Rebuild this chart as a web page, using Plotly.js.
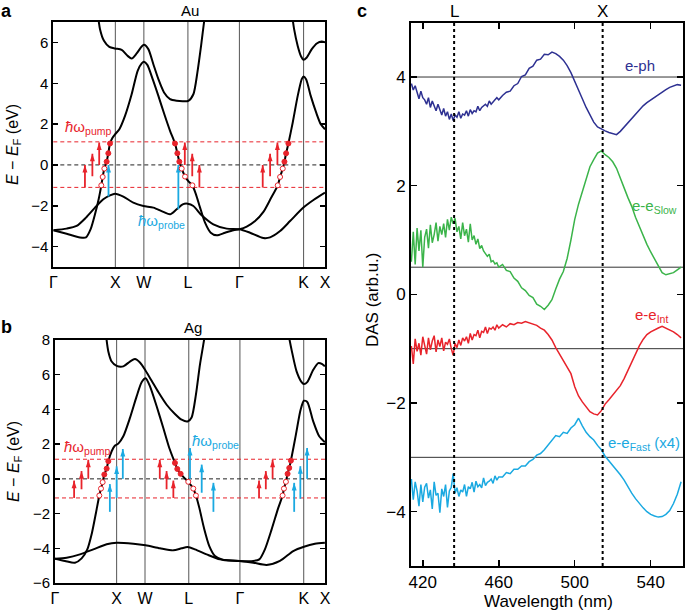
<!DOCTYPE html>
<html><head><meta charset="utf-8">
<script src="https://cdn.plot.ly/plotly-3.0.1.min.js"></script>
<style>html,body{margin:0;padding:0;background:#fff}#chart{width:685px;height:613px}</style>
</head><body><div id="chart"></div>
<script>
// ---------- Panel a/b : band structures ----------
const kTicks = [0, 1, 1.46, 2.17, 3.0, 4.035, 4.38];
const kLabels = ['Γ', 'X', 'W', 'L', 'Γ', 'K', 'X'];
const auYTicks = [-4, -2, 0, 2, 4, 6];
const auYLabels = ['−4', '−2', '0', '2', '4', '6'];
const agYTicks = [-6, -4, -2, 0, 2, 4, 6, 8];
const agYLabels = ['−6', '−4', '−2', '0', '2', '4', '6', '8'];
const levels = [1.13, 0, -1.1];

// Au bands
const auSpK = [0,0.215,0.43,0.527,0.602,0.672,0.731,0.774,0.796,0.823,0.86,0.887,0.914,0.957,0.995,1.065,1.156,1.263,1.36,1.425,1.462,1.516,1.602,1.694,1.79,1.882,1.962,2.0,2.032,2.07,2.124,2.183,2.242,2.30,2.366,2.446,2.538,2.634,2.769,2.903,3.0,3.118,3.253,3.387,3.505,3.618,3.656,3.699,3.726,3.753,3.79,3.86,3.94,4.005,4.032,4.075,4.15,4.237,4.312,4.38];
const auSpE = [-3.20,-3.37,-3.55,-3.55,-3.15,-2.42,-1.68,-1.0,-0.59,-0.18,0.16,0.57,1.05,1.34,1.50,1.75,2.40,3.46,4.61,4.97,5.05,4.90,4.20,3.38,2.48,1.67,1.05,0.57,0.16,-0.18,-0.57,-0.82,-1.0,-1.44,-2.09,-2.83,-3.32,-3.45,-3.32,-3.20,-3.15,-3.02,-2.75,-2.30,-1.65,-1.0,-0.59,-0.18,0.16,0.57,1.05,2.08,3.38,4.20,4.33,4.20,3.38,2.57,1.99,1.75];
const auDK = [0,0.215,0.376,0.527,0.672,0.806,0.914,0.995,1.129,1.29,1.452,1.613,1.774,1.882,1.989,2.086,2.167,2.258,2.392,2.58,2.796,3.0,3.172,3.387,3.495,3.656,3.817,4.032,4.194,4.38];
const auDE = [-3.20,-3.12,-2.99,-2.58,-2.09,-1.68,-1.49,-1.41,-1.55,-1.85,-2.01,-2.09,-2.30,-2.42,-2.17,-1.93,-1.90,-2.01,-2.47,-2.91,-3.12,-3.15,-3.32,-3.58,-3.55,-3.24,-2.75,-2.09,-1.72,-1.36];
const auUpK = [0.715,0.753,0.817,0.903,0.995,1.102,1.199,1.263,1.344,1.425,1.462,1.532,1.613,1.694,1.785,1.882,1.989,2.097,2.177,2.258,2.323,2.382,2.43,2.457];
const auUpE = [7.47,6.65,6.08,5.78,5.70,5.64,5.34,5.21,5.46,5.80,5.88,5.67,4.93,4.20,3.55,3.22,3.14,3.12,3.14,3.46,4.53,5.83,6.98,7.47];
const auKK = [3.844,3.882,3.94,3.995,4.032,4.086,4.167,4.247,4.328,4.38];
const auKE = [7.47,6.65,5.83,5.31,5.15,5.26,5.67,5.95,6.05,6.0];

// Au pump/probe arrows and carriers
const auPumpK = [0.51,0.63,0.74, 2.12,2.24,2.355, 3.376,3.495,3.613];
const auPumpFrom = [-1.1,-0.55,0, 0,-0.55,-1.1, -1.1,-0.55,0];
const auPumpTo = [0,0.55,1.1, 1.1,0.55,0, 0,0.55,1.1];
const auProbeK = [0.89, 2.016];
const auProbeFrom = [-1.55, -2.17];
const auProbeTo = [0, 0];
const auElecK = [0.86,0.887,0.914, 1.962,2.0,2.032, 3.726,3.753,3.79];
const auElecE = [0.16,0.57,1.05, 1.05,0.57,0.16, 0.16,0.57,1.05];
const auHoleK = [0.774,0.796,0.823, 2.07,2.124,2.242, 3.618,3.656,3.699];
const auHoleE = [-1.0,-0.59,-0.18, -0.18,-0.57,-1.0, -1.0,-0.59,-0.18];

// Ag bands
const agSpK = [0,0.162,0.324,0.432,0.524,0.6,0.665,0.719,0.746,0.773,0.80,0.838,0.865,0.919,0.973,1.027,1.108,1.216,1.324,1.405,1.47,1.541,1.649,1.757,1.854,1.946,1.984,2.038,2.097,2.162,2.243,2.286,2.341,2.416,2.503,2.595,2.73,2.989,3.216,3.314,3.405,3.514,3.622,3.692,3.714,3.746,3.773,3.80,3.827,3.908,3.984,4.038,4.092,4.189,4.286,4.378];
const agSpE = [-4.60,-4.73,-4.83,-4.58,-4.06,-3.10,-1.95,-0.96,-0.56,-0.19,0.25,0.59,1.02,1.59,1.92,2.03,2.45,3.51,4.75,5.57,5.80,5.33,4.18,2.93,1.78,0.92,0.57,0.29,0.06,-0.17,-0.56,-0.96,-1.67,-2.82,-3.87,-4.44,-4.67,-4.73,-4.73,-4.64,-4.06,-2.91,-1.67,-0.96,-0.56,-0.17,0.29,0.63,1.05,2.55,3.98,4.50,4.43,3.31,2.45,2.11];
const agDK = [0,0.189,0.405,0.622,0.838,1.0,1.27,1.47,1.703,1.919,2.054,2.151,2.27,2.459,2.676,2.989,3.216,3.432,3.649,3.865,4.038,4.216,4.378];
const agDE = [-4.60,-4.54,-4.35,-4.06,-3.77,-3.68,-3.74,-3.83,-4.0,-4.12,-4.0,-3.93,-4.06,-4.35,-4.64,-4.73,-4.83,-4.96,-4.73,-4.16,-3.91,-3.74,-3.68];
const agUpK = [0.827,0.865,0.919,1.0,1.108,1.216,1.297,1.378,1.47,1.568,1.676,1.811,1.946,2.054,2.151,2.216,2.286,2.351,2.405,2.432];
const agUpE = [8.30,7.34,6.76,6.51,6.48,6.76,6.90,6.70,6.23,5.65,5.0,4.27,3.74,3.41,3.31,3.54,4.85,6.57,7.72,8.30];
const agKK = [3.789,3.838,3.919,4.0,4.038,4.092,4.189,4.27,4.335,4.378];
const agKE = [8.30,7.43,6.19,5.57,5.46,5.57,6.28,6.67,6.61,6.48];

const agPumpK = [0.31,0.43,0.54, 1.70,1.81,1.92, 3.31,3.42,3.53];
const agPumpFrom = [-1.1,-0.6,0, 0,-0.6,-1.1, -1.1,-0.6,0];
const agPumpTo = [-0.1,0.45,1.1, 1.1,0.45,-0.1, -0.1,0.45,1.1];
const agProbeK = [0.89,1.0,1.10, 2.19,2.38,2.57, 3.88,3.98,4.09];
const agProbeFrom = [-1.9,-1.1,0, 0,-0.8,-1.9, -1.9,-1.15,0];
const agProbeTo = [-0.3,0.72,1.72, 1.78,0.82,-0.23, -0.23,0.73,1.78];
const agElecK = [0.80,0.838,0.865, 1.946,1.984,2.038, 3.773,3.80,3.827];
const agElecE = [0.25,0.59,1.02, 0.92,0.57,0.29, 0.29,0.63,1.05];
const agHoleK = [0.719,0.746,0.773, 2.162,2.243,2.286, 3.692,3.714,3.746];
const agHoleE = [-0.96,-0.56,-0.19, -0.17,-0.56,-0.96, -0.96,-0.56,-0.17];

// ---------- Panel c : DAS ----------
const wavelength = [414,415,416,417,418,419,420,421,422,423,424,425,426,427,428,429,430,431,432,433,434,435,436,437,438,439,440,441,442,443,444,445,446,447,448,449,450,451,452,453,454,455,456,457,458,459,460,462,464,466,468,470,472,474,476,478,480,482,484,486,488,490,492,494,496,498,500,502,504,506,508,510,512,514,516,518,520,522,524,526,528,530,532,534,536,538,540,542,544,546,548,550,552,554,556];
const ePh = [3.88,3.76,3.84,3.72,3.60,3.74,3.62,3.58,3.50,3.62,3.44,3.56,3.48,3.38,3.50,3.40,3.30,3.42,3.28,3.36,3.22,3.32,3.20,3.30,3.26,3.36,3.24,3.32,3.30,3.38,3.28,3.40,3.33,3.38,3.36,3.46,3.38,3.44,3.47,3.50,3.46,3.56,3.50,3.55,3.58,3.62,3.58,
  3.66,3.72,3.74,3.84,3.88,4.01,4.04,4.16,4.20,4.31,4.33,4.42,4.41,4.46,4.43,4.38,4.31,4.21,4.08,3.93,3.78,3.60,3.44,3.30,3.17,3.08,3.04,3.01,2.98,2.96,2.94,3.00,3.08,3.17,3.25,3.32,3.40,3.47,3.53,3.58,3.63,3.68,3.73,3.77,3.81,3.84,3.86,3.85];
const eeSlow = [0.60,1.15,0.55,1.22,0.80,1.18,0.50,1.05,1.20,0.85,1.28,0.95,1.10,1.32,0.98,1.25,1.10,1.30,1.05,1.38,1.18,1.42,1.30,1.40,1.15,1.25,1.02,1.32,1.08,1.20,0.96,1.30,1.00,1.08,0.92,1.02,0.84,0.90,0.80,0.76,0.70,0.74,0.60,0.62,0.56,0.58,0.50,
  0.55,0.44,0.42,0.30,0.24,0.12,0.07,-0.02,-0.06,-0.18,-0.22,-0.28,-0.20,-0.10,0.10,0.28,0.42,0.66,1.00,1.38,1.66,1.90,2.14,2.35,2.48,2.60,2.64,2.57,2.52,2.44,2.32,2.12,1.96,1.78,1.62,1.42,1.25,1.08,0.92,0.78,0.66,0.52,0.40,0.36,0.38,0.40,0.45,0.50];
const eeInt = [-0.95,-1.28,-0.82,-1.05,-0.90,-1.12,-0.78,-0.98,-1.10,-0.80,-1.02,-0.86,-0.76,-1.06,-0.84,-0.96,-0.80,-1.04,-0.88,-0.92,-0.82,-1.00,-1.12,-0.90,-0.98,-0.84,-0.94,-0.80,-0.86,-0.78,-0.90,-0.72,-0.84,-0.74,-0.76,-0.66,-0.80,-0.68,-0.70,-0.60,-0.72,-0.62,-0.64,-0.60,-0.66,-0.56,-0.62,
  -0.56,-0.60,-0.54,-0.56,-0.52,-0.53,-0.50,-0.52,-0.55,-0.57,-0.62,-0.66,-0.74,-0.84,-0.98,-1.10,-1.20,-1.33,-1.46,-1.70,-1.87,-1.98,-2.08,-2.16,-2.20,-2.22,-2.14,-2.02,-1.94,-1.86,-1.78,-1.68,-1.55,-1.40,-1.24,-1.08,-0.95,-0.83,-0.74,-0.69,-0.65,-0.62,-0.59,-0.62,-0.65,-0.69,-0.74,-0.80];
const eeFast = [-3.40,-3.78,-3.45,-3.62,-3.90,-3.50,-3.82,-3.55,-3.48,-3.75,-3.60,-3.95,-3.45,-3.70,-3.66,-4.02,-3.58,-3.72,-3.50,-3.92,-3.62,-3.55,-3.30,-3.66,-3.56,-3.72,-3.60,-3.64,-3.50,-3.72,-3.54,-3.58,-3.46,-3.64,-3.44,-3.54,-3.50,-3.56,-3.38,-3.52,-3.46,-3.44,-3.40,-3.48,-3.34,-3.42,-3.36,
  -3.36,-3.28,-3.30,-3.22,-3.22,-3.16,-3.16,-3.08,-3.04,-2.96,-2.93,-2.86,-2.78,-2.70,-2.60,-2.62,-2.54,-2.56,-2.46,-2.40,-2.28,-2.42,-2.54,-2.62,-2.68,-2.78,-2.86,-2.98,-3.06,-3.14,-3.22,-3.32,-3.42,-3.55,-3.66,-3.76,-3.85,-3.93,-4.00,-4.05,-4.08,-4.10,-4.09,-4.05,-3.98,-3.85,-3.68,-3.45];
const baselines = [4, 0.5, -1, -3];
const cXTicks = [420, 460, 500, 540];
const cYTicks = [-4, -2, 0, 2, 4];
const cYLabels = ['−4', '−2', '0', '2', '4'];
const symPoints = [436.5, 514.7];
const symLabels = ['L', 'X'];

// ---------- styling ----------
const W = 685, H = 613;
const FONT = 'Liberation Sans, Arial, Helvetica, sans-serif';
const RED = '#e8232b', BLUE = '#1aa9e1', GREEN = '#3bb44a', NAVY = '#2e3192';
const px = v => v / W, py = v => 1 - v / H;

function bandTrace(k, e, xa, ya) {
  return {x: k, y: e, xaxis: xa, yaxis: ya, type: 'scatter', mode: 'lines',
    line: {color: '#000', width: 2, shape: 'spline', smoothing: 0.7}, hoverinfo: 'skip'};
}
function dotTrace(k, e, xa, ya, open) {
  return {x: k, y: e, xaxis: xa, yaxis: ya, type: 'scatter', mode: 'markers', cliponaxis: false,
    marker: {size: 5, color: open ? '#fff' : RED, line: {color: RED, width: 1}}, hoverinfo: 'skip'};
}
// vertical arrows: shaft segments (separated by gaps) + arrow-head markers at the tips
function arrowTraces(ks, from, to, color, xa, ya) {
  const sx = [], sy = [];
  ks.forEach((k, i) => { sx.push(k, k, null); sy.push(from[i], to[i], null); });
  return [
    {x: sx, y: sy, xaxis: xa, yaxis: ya, type: 'scatter', mode: 'lines', connectgaps: false,
      line: {color: color, width: 1.8}, hoverinfo: 'skip'},
    {x: ks, y: to, xaxis: xa, yaxis: ya, type: 'scatter', mode: 'markers', cliponaxis: false,
      marker: {symbol: 'arrow', size: 8, color: color, angle: 0, line: {width: 0}}, hoverinfo: 'skip'}
  ];
}
const traces = [
  bandTrace(auDK, auDE, 'x', 'y'), bandTrace(auSpK, auSpE, 'x', 'y'),
  bandTrace(auUpK, auUpE, 'x', 'y'), bandTrace(auKK, auKE, 'x', 'y'),
  ...arrowTraces(auPumpK, auPumpFrom, auPumpTo, RED, 'x', 'y'),
  ...arrowTraces(auProbeK, auProbeFrom, auProbeTo, BLUE, 'x', 'y'),
  dotTrace(auElecK, auElecE, 'x', 'y', false), dotTrace(auHoleK, auHoleE, 'x', 'y', true),
  bandTrace(agDK, agDE, 'x2', 'y2'), bandTrace(agSpK, agSpE, 'x2', 'y2'),
  bandTrace(agUpK, agUpE, 'x2', 'y2'), bandTrace(agKK, agKE, 'x2', 'y2'),
  ...arrowTraces(agPumpK, agPumpFrom, agPumpTo, RED, 'x2', 'y2'),
  ...arrowTraces(agProbeK, agProbeFrom, agProbeTo, BLUE, 'x2', 'y2'),
  dotTrace(agElecK, agElecE, 'x2', 'y2', false), dotTrace(agHoleK, agHoleE, 'x2', 'y2', true)
];
[[ePh, NAVY], [eeSlow, GREEN], [eeInt, RED], [eeFast, BLUE]].forEach(([v, c]) => {
  traces.push({x: wavelength, y: v, xaxis: 'x3', yaxis: 'y3', type: 'scatter', mode: 'lines',
    line: {color: c, width: 1.5}, hoverinfo: 'skip'});
});

const shapes = [];
const annotations = [];
function bandDecor(xa, ya) {
  kTicks.slice(1, 6).forEach(k => shapes.push({type: 'line', xref: xa, yref: ya + ' domain', x0: k, x1: k, y0: 0, y1: 1,
    line: {color: '#555', width: 1}, layer: 'below'}));
  levels.forEach(l => shapes.push({type: 'line', xref: xa + ' domain', yref: ya, x0: 0, x1: 1, y0: l, y1: l,
    line: {color: l === 0 ? '#222' : RED, width: 1, dash: '4px,3px'}, layer: 'below'}));
}
bandDecor('x', 'y');
bandDecor('x2', 'y2');

baselines.forEach(b => shapes.push({type: 'line', xref: 'x3 domain', yref: 'y3', x0: 0, x1: 1, y0: b, y1: b,
  line: {color: '#333', width: 1}, layer: 'below'}));
symPoints.forEach((s, i) => {
  shapes.push({type: 'line', xref: 'x3', yref: 'y3 domain', x0: s, x1: s, y0: 0, y1: 1,
    line: {color: '#000', width: 2, dash: '3px,3px'}, layer: 'above'});
  annotations.push({x: s, xref: 'x3', y: py(12), yref: 'paper', text: symLabels[i], showarrow: false,
    font: {size: 17, color: '#000'}, xanchor: 'center', yanchor: 'middle'});
});

function txt(x, y, text, opts) {
  annotations.push(Object.assign({x: x, y: y, xref: 'paper', yref: 'paper', text: text, showarrow: false,
    xanchor: 'center', yanchor: 'middle', font: {size: 15, color: '#000'}}, opts || {}));
}
txt(px(6), py(11), '<b>a</b>', {font: {size: 18, color: '#000'}});
txt(px(6), py(327), '<b>b</b>', {font: {size: 18, color: '#000'}});
txt(px(362), py(11), '<b>c</b>', {font: {size: 18, color: '#000'}});
txt(px(190), py(11), 'Au', {font: {size: 15, color: '#000'}});
txt(px(193), py(327), 'Ag', {font: {size: 15, color: '#000'}});
txt(px(14), py(145), '<i>E</i> − <i>E</i><sub>F</sub> (eV)', {textangle: -90, font: {size: 16, color: '#000'}});
txt(px(14), py(462), '<i>E</i> − <i>E</i><sub>F</sub> (eV)', {textangle: -90, font: {size: 16, color: '#000'}});
txt(px(372), py(300), 'DAS (arb.u.)', {textangle: -90, font: {size: 17, color: '#000'}});
txt(px(548), py(601), 'Wavelength (nm)', {font: {size: 17, color: '#000'}});

function dtxt(x, y, xa, ya, text, color, anchor) {
  annotations.push({x: x, y: y, xref: xa, yref: ya, text: text, showarrow: false, xanchor: anchor || 'left',
    yanchor: 'middle', font: {size: 15, color: color}});
}
dtxt(0.16, 1.85, 'x', 'y', '<i>ħ</i>ω<sub>pump</sub>', RED);
dtxt(1.34, -2.75, 'x', 'y', '<i>ħ</i>ω<sub>probe</sub>', BLUE);
dtxt(0.11, 1.8, 'x2', 'y2', '<i>ħ</i>ω<sub>pump</sub>', RED);
dtxt(2.19, 2.15, 'x2', 'y2', '<i>ħ</i>ω<sub>probe</sub>', BLUE);
dtxt(534.4, 4.22, 'x3', 'y3', 'e-ph', NAVY, 'center');
dtxt(529, 1.62, 'x3', 'y3', 'e-e<sub>Slow</sub>', GREEN);
dtxt(530.6, -0.38, 'x3', 'y3', 'e-e<sub>Int</sub>', RED);
dtxt(516.5, -2.75, 'x3', 'y3', 'e-e<sub>Fast</sub> (x4)', BLUE);

const frame = {showline: true, linecolor: '#000', linewidth: 2, mirror: true, showgrid: false, zeroline: false,
  tickfont: {size: 15, color: '#000'}};
function kAxis(d0, d1, anchor) {
  return Object.assign({}, frame, {domain: [d0, d1], range: [0, 4.38], anchor: anchor, tickmode: 'array',
    tickvals: kTicks, ticktext: kLabels, ticks: '', tickfont: {size: 16, color: '#000'}});
}
function eAxis(d0, d1, r, tv, tt, anchor) {
  return Object.assign({}, frame, {domain: [d0, d1], range: r, anchor: anchor, tickmode: 'array', tickvals: tv,
    ticktext: tt, ticks: 'inside', ticklen: 5, tickwidth: 1.5, tickcolor: '#000', mirror: 'ticks'});
}

const layout = {
  width: W, height: H, margin: {l: 0, r: 0, t: 0, b: 0}, showlegend: false,
  paper_bgcolor: '#fff', plot_bgcolor: '#fff', font: {family: FONT, color: '#000'},
  xaxis: kAxis(px(53.3), px(325), 'y'),
  yaxis: eAxis(py(267), py(22), [-5, 7], auYTicks, auYLabels, 'x'),
  xaxis2: kAxis(px(55), px(325), 'y2'),
  yaxis2: eAxis(py(583), py(340), [-6, 8], agYTicks, agYLabels, 'x2'),
  xaxis3: Object.assign({}, frame, {domain: [px(411), px(683)], range: [413.8, 557], anchor: 'y3', tickmode: 'array',
    tickvals: cXTicks, ticktext: cXTicks.map(String), ticks: 'inside', ticklen: 6, tickwidth: 1.5, tickcolor: '#000',
    mirror: 'ticks', tickfont: {size: 17, color: '#000'}}),
  yaxis3: Object.assign({}, frame, {domain: [py(566), py(22.7)], range: [-5, 5], anchor: 'x3', tickmode: 'array',
    tickvals: cYTicks, ticktext: cYLabels, ticks: 'inside', ticklen: 6, tickwidth: 1.5, tickcolor: '#000',
    mirror: 'ticks', tickfont: {size: 17, color: '#000'}}),
  shapes: shapes, annotations: annotations
};
Plotly.newPlot('chart', traces, layout, {staticPlot: true, displayModeBar: false});
</script></body></html>
